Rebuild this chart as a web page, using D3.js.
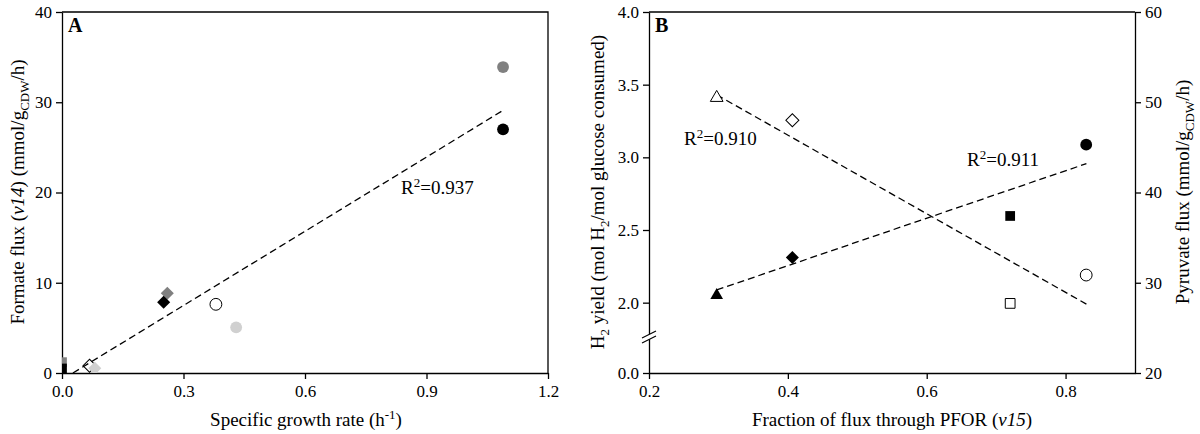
<!DOCTYPE html>
<html>
<head>
<meta charset="utf-8">
<script src="https://cdn.jsdelivr.net/npm/d3@7"></script>
<style>
  body { margin: 0; background: #fff; }
  svg { display: block; }
  text { font-family: "Liberation Serif", "Times New Roman", serif; fill: #000; }
</style>
</head>
<body>
<div id="chart"></div>
<script>
// ---- panel A: formate flux vs growth rate
var growthRate  = [0.0, 0.0, 0.068, 0.081, 0.26, 0.251, 0.38, 0.43, 1.089, 1.089];
var formateFlux = [1.2, 0.5, 0.8, 0.52, 8.83, 7.83, 7.61, 5.06, 33.9, 27.0];
var aShape = ["square", "square", "diamond", "diamond", "diamond", "diamond", "circle", "circle", "circle", "circle"];
var aShade = ["gray", "black", "open", "light", "gray", "black", "open", "light", "gray", "black"];
var aFitX = [0.027, 1.089];
var aFitY = [0, 29.1];
var aTicksX = [0, 0.3, 0.6, 0.9, 1.2];
var aTicksY = [0, 10, 20, 30, 40];

// ---- panel B: H2 yield / pyruvate flux vs PFOR fraction
var pforFraction = [0.2975, 0.4065, 0.7202, 0.8297];
var bShape = ["triangle", "diamond", "square", "circle"];
var h2Yield = [3.41, 3.255, 1.995, 2.19];
var pyruvateFlux = [28.6, 32.8, 37.4, 45.3];
var h2FitX = [0.2975, 0.83], h2FitY = [3.43, 1.99];
var pyrFitX = [0.2975, 0.83], pyrFitY = [29.2, 43.2];
var bTicksX = [0.2, 0.4, 0.6, 0.8];
var bTicksLeft = [0, 2.0, 2.5, 3.0, 3.5, 4.0];
var bTicksRight = [20, 30, 40, 50, 60];

var shadeFill = { black: "#000", gray: "#808080", light: "#d0d0d0", open: "#fff" };
var symSize = { circle: 110, square: 95, diamond: 85, triangle: 70 };
var symType = { circle: d3.symbolCircle, square: d3.symbolSquare, diamond: d3.symbolSquare, triangle: d3.symbolTriangle };

var svg = d3.select("#chart").append("svg").attr("width", 1200).attr("height", 434);

// writes text pieces with sub/superscript and italics
function rich(textSel, parts) {
    var shift = 0;
    parts.forEach(function (p) {
        var target = p.s === "sub" ? 5 : (p.s === "sup" ? -7 : 0);
        var ts = textSel.append("tspan").text(p.t).attr("dy", target - shift);
        if (p.s === "sub" || p.s === "sup") ts.style("font-size", "13px");
        if (p.s === "i") ts.style("font-style", "italic");
        shift = target;
    });
}

function marker(g, x, y, shape, shade) {
    var open = shade === "open";
    g.append("path")
        .attr("d", d3.symbol().type(symType[shape]).size(symSize[shape])())
        .attr("transform", "translate(" + x + "," + y + ")" + (shape === "diamond" ? " rotate(45)" : ""))
        .attr("fill", shadeFill[shade])
        .attr("stroke", open ? "#000" : "none")
        .attr("stroke-width", 1);
}

function fitLine(g, xs, ys, xScale, yScale) {
    g.append("line")
        .attr("x1", xScale(xs[0])).attr("y1", yScale(ys[0]))
        .attr("x2", xScale(xs[1])).attr("y2", yScale(ys[1]))
        .attr("stroke", "#000").attr("stroke-width", 1.3)
        .attr("stroke-dasharray", "7,4");
}

function styleAxis(g) {
    g.selectAll("path, line").attr("stroke", "#000").attr("stroke-width", 1.3);
    g.selectAll("text").style("font-size", "17px").attr("fill", "#000");
}

// ================= Panel A =================
var xA = d3.scaleLinear().domain([0, 1.2]).range([62, 548]);
var yA = d3.scaleLinear().domain([0, 40]).range([373, 12]);

svg.append("clipPath").attr("id", "clipA").append("rect")
    .attr("x", 62).attr("y", 12).attr("width", 486).attr("height", 361);

svg.append("g").attr("transform", "translate(0,373)")
    .call(d3.axisBottom(xA).tickValues(aTicksX).tickFormat(d3.format(".1f")).tickSize(6).tickPadding(6).tickSizeOuter(0))
    .call(styleAxis);
svg.append("g").attr("transform", "translate(62,0)")
    .call(d3.axisLeft(yA).tickValues(aTicksY).tickFormat(d3.format("d")).tickSize(6).tickPadding(4).tickSizeOuter(0))
    .call(styleAxis);
svg.append("path").attr("d", "M62,12H548V373").attr("fill", "none").attr("stroke", "#000").attr("stroke-width", 1.3);

var gA = svg.append("g").attr("clip-path", "url(#clipA)");
growthRate.forEach(function (v, i) {
    marker(gA, xA(v), yA(formateFlux[i]), aShape[i], aShade[i]);
});
fitLine(svg, aFitX, aFitY, xA, yA);

rich(svg.append("text").attr("x", 401).attr("y", 194).style("font-size", "19px"),
    [{ t: "R" }, { t: "2", s: "sup" }, { t: "=0.937" }]);
svg.append("text").attr("x", 68).attr("y", 32).style("font-size", "20px").style("font-weight", "bold").text("A");

rich(svg.append("text").attr("x", 306).attr("y", 426).attr("text-anchor", "middle").style("font-size", "19px"),
    [{ t: "Specific growth rate (h" }, { t: "-1", s: "sup" }, { t: ")" }]);
rich(svg.append("text").attr("transform", "translate(24,192) rotate(-90)").attr("text-anchor", "middle").style("font-size", "19px"),
    [{ t: "Formate flux (" }, { t: "v14", s: "i" }, { t: ") (mmol/g" }, { t: "CDW", s: "sub" }, { t: "/h)" }]);

// ================= Panel B =================
var xB = d3.scaleLinear().domain([0.2, 0.9]).range([649, 1135]);
// broken left axis: 0.0 sits below the break
var yBL = d3.scaleLinear().domain([0, 1.75, 4.0]).range([373, 339, 12]);
var yBR = d3.scaleLinear().domain([20, 60]).range([373, 12]);

svg.append("g").attr("transform", "translate(0,373)")
    .call(d3.axisBottom(xB).tickValues(bTicksX).tickFormat(d3.format(".1f")).tickSize(6).tickPadding(6).tickSizeOuter(0))
    .call(styleAxis);
svg.append("g").attr("transform", "translate(649,0)")
    .call(d3.axisLeft(yBL).tickValues(bTicksLeft).tickFormat(d3.format(".1f")).tickSize(6).tickPadding(4).tickSizeOuter(0))
    .call(styleAxis);
svg.append("g").attr("transform", "translate(1135,0)")
    .call(d3.axisRight(yBR).tickValues(bTicksRight).tickFormat(d3.format("d")).tickSize(6).tickPadding(4).tickSizeOuter(0))
    .call(styleAxis);
svg.append("path").attr("d", "M649,12H1135").attr("fill", "none").attr("stroke", "#000").attr("stroke-width", 1.3);

// axis break marks
var brk = svg.append("g");
brk.append("polygon").attr("points", "642,338 656,331 656,336 642,343").attr("fill", "#fff");
brk.append("line").attr("x1", 642).attr("y1", 338).attr("x2", 656).attr("y2", 331).attr("stroke", "#000").attr("stroke-width", 1.2);
brk.append("line").attr("x1", 642).attr("y1", 343).attr("x2", 656).attr("y2", 336).attr("stroke", "#000").attr("stroke-width", 1.2);

fitLine(svg, h2FitX, h2FitY, xB, yBL);
fitLine(svg, pyrFitX, pyrFitY, xB, yBR);

pforFraction.forEach(function (v, i) {
    marker(svg, xB(v), yBL(h2Yield[i]), bShape[i], "open");
    marker(svg, xB(v), yBR(pyruvateFlux[i]), bShape[i], "black");
});

rich(svg.append("text").attr("x", 684).attr("y", 145).style("font-size", "19px"),
    [{ t: "R" }, { t: "2", s: "sup" }, { t: "=0.910" }]);
rich(svg.append("text").attr("x", 967).attr("y", 166).style("font-size", "19px"),
    [{ t: "R" }, { t: "2", s: "sup" }, { t: "=0.911" }]);
svg.append("text").attr("x", 655).attr("y", 32).style("font-size", "20px").style("font-weight", "bold").text("B");

rich(svg.append("text").attr("x", 892).attr("y", 426).attr("text-anchor", "middle").style("font-size", "19px"),
    [{ t: "Fraction of flux through PFOR (" }, { t: "v15", s: "i" }, { t: ")" }]);
rich(svg.append("text").attr("transform", "translate(604,192) rotate(-90)").attr("text-anchor", "middle").style("font-size", "19px"),
    [{ t: "H" }, { t: "2", s: "sub" }, { t: " yield (mol H" }, { t: "2", s: "sub" }, { t: "/mol glucose consumed)" }]);
rich(svg.append("text").attr("transform", "translate(1189,192) rotate(-90)").attr("text-anchor", "middle").style("font-size", "19px"),
    [{ t: "Pyruvate flux (mmol/g" }, { t: "CDW", s: "sub" }, { t: "/h)" }]);
</script>
</body>
</html>
